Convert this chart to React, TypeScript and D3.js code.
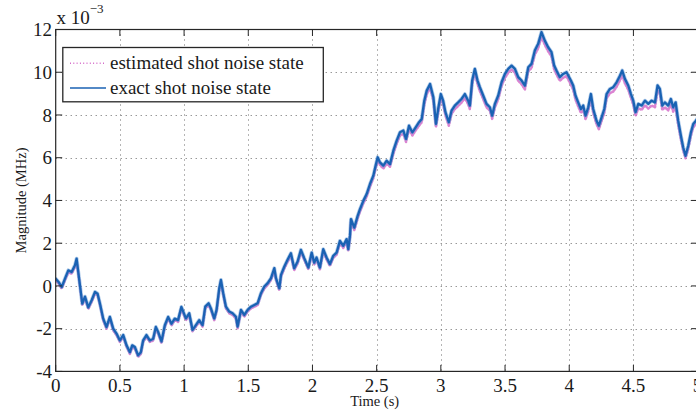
import React from 'react';
import * as d3 from 'd3';

// ---- data ----
const timeS = [
  // 0 - 1 s
  0, 0.021, 0.047, 0.073, 0.098, 0.124, 0.150, 0.163, 0.176, 0.189, 0.207, 0.228, 0.254, 0.280, 0.306, 0.326, 0.345, 0.370, 0.396, 0.422, 0.448, 0.474, 0.500, 0.526, 0.552, 0.578, 0.596, 0.617, 0.642, 0.663, 0.681, 0.707, 0.733, 0.759, 0.780, 0.798, 0.824, 0.850, 0.876, 0.902, 0.927, 0.953, 0.979,
  // 1 - 2 s
  1.014, 1.040, 1.066, 1.092, 1.118, 1.144, 1.165, 1.191, 1.209, 1.235, 1.253, 1.274, 1.287, 1.305, 1.326, 1.352, 1.378, 1.404, 1.417, 1.443, 1.469, 1.495, 1.521, 1.547, 1.573, 1.599, 1.625, 1.651, 1.677, 1.703, 1.716, 1.742, 1.755, 1.781, 1.806, 1.832, 1.858, 1.884, 1.910, 1.936,
  // 2 - 3 s
  1.968, 1.994, 2.014, 2.032, 2.058, 2.084, 2.110, 2.136, 2.162, 2.188, 2.214, 2.240, 2.266, 2.279, 2.292, 2.300, 2.326, 2.352, 2.370, 2.396, 2.422, 2.448, 2.474, 2.492, 2.508, 2.526, 2.552, 2.578, 2.604, 2.630, 2.656, 2.682, 2.708, 2.729, 2.752, 2.778, 2.804, 2.830, 2.851, 2.871, 2.890, 2.916, 2.942, 2.962,
  // 3 - 4 s
  2.979, 3.000, 3.018, 3.036, 3.062, 3.083, 3.109, 3.135, 3.161, 3.187, 3.213, 3.226, 3.244, 3.265, 3.286, 3.304, 3.330, 3.356, 3.382, 3.400, 3.421, 3.447, 3.473, 3.499, 3.525, 3.551, 3.577, 3.603, 3.629, 3.655, 3.681, 3.706, 3.732, 3.758, 3.784, 3.810, 3.836, 3.862, 3.883, 3.901, 3.927, 3.953, 3.979,
  // 4 - 5 s
  4.013, 4.031, 4.049, 4.070, 4.091, 4.109, 4.127, 4.148, 4.169, 4.187, 4.213, 4.231, 4.252, 4.273, 4.291, 4.317, 4.343, 4.369, 4.395, 4.413, 4.434, 4.460, 4.481, 4.499, 4.517, 4.538, 4.564, 4.590, 4.616, 4.642, 4.668, 4.688, 4.706, 4.725, 4.745, 4.771, 4.792, 4.810, 4.829, 4.849, 4.870, 4.888, 4.906, 4.927, 4.948, 4.966, 4.987, 5.000,
];

// exact shot noise state (x 10^-3 MHz)
const exactShot = [
  0.34, 0.20, -0.05, 0.35, 0.73, 0.65, 0.97, 1.28, 0.65, 0.03, -0.83, -0.50, -1.00, -0.67, -0.28, -0.36, -0.83, -1.53, -1.92, -1.45, -2.00, -2.23, -2.55, -2.30, -2.78, -3.10, -2.78, -2.86, -3.25, -3.10, -2.55, -2.30, -2.55, -2.47, -1.92, -2.15, -2.60, -1.84, -1.45, -1.77, -1.53, -1.60, -0.98,
  -1.52, -1.28, -2.06, -1.83, -1.60, -1.83, -0.97, -0.81, -1.05, -1.52, -1.12, -0.11, 0.28, -0.34, -0.97, -1.20, -1.28, -1.44, -1.90, -1.12, -1.36, -1.12, -0.97, -0.89, -0.81, -0.34, -0.03, 0.13, 0.36, 0.83, 0.36, -0.11, 0.52, 0.91, 1.22, 1.53, 0.83, 1.14, 1.69, 1.30,
  0.86, 1.56, 1.09, 1.33, 0.86, 1.72, 1.33, 1.02, 1.41, 1.56, 2.11, 1.88, 2.19, 1.72, 2.34, 3.13, 2.73, 3.28, 3.59, 3.98, 4.30, 4.77, 5.16, 5.63, 6.02, 5.78, 5.63, 5.86, 5.70, 6.33, 6.80, 7.19, 7.27, 6.88, 7.50, 7.19, 7.42, 7.66, 7.81, 8.67, 9.14, 9.45, 8.83, 7.58,
  8.28, 8.98, 8.67, 8.13, 7.66, 8.20, 8.44, 8.59, 8.75, 8.98, 8.67, 8.44, 9.61, 10.16, 9.61, 9.30, 8.91, 8.52, 8.36, 7.97, 8.52, 8.91, 9.53, 9.92, 10.16, 10.31, 10.16, 9.77, 9.61, 9.38, 10.23, 10.39, 11.02, 11.33, 11.88, 11.48, 11.17, 10.94, 10.31, 10.08, 9.77, 9.92, 10.00,
  9.61, 9.38, 8.91, 8.59, 8.28, 8.44, 7.97, 8.36, 8.98, 8.28, 7.73, 7.50, 7.89, 8.28, 8.98, 9.22, 9.30, 9.53, 9.84, 10.08, 9.69, 9.38, 8.98, 8.67, 8.13, 8.52, 8.44, 8.67, 8.52, 8.67, 8.59, 9.38, 9.22, 8.44, 8.59, 8.44, 8.75, 8.36, 8.59, 7.73, 7.03, 6.48, 6.09, 6.56, 7.19, 7.58, 7.73, 7.85,
];

// estimated shot noise state (x 10^-3 MHz)
const estimatedShot = [
  0.30, 0.12, -0.12, 0.28, 0.62, 0.58, 0.88, 1.15, 0.58, -0.02, -0.90, -0.58, -1.08, -0.74, -0.36, -0.42, -0.90, -1.60, -2.00, -1.52, -2.08, -2.30, -2.62, -2.38, -2.85, -3.18, -2.86, -2.94, -3.32, -3.18, -2.62, -2.38, -2.62, -2.55, -2.00, -2.22, -2.68, -1.92, -1.52, -1.85, -1.60, -1.68, -1.06,
  -1.60, -1.36, -2.12, -1.90, -1.68, -1.90, -1.05, -0.90, -1.12, -1.60, -1.20, -0.20, 0.18, -0.42, -1.05, -1.28, -1.36, -1.52, -1.98, -1.20, -1.44, -1.20, -1.05, -0.97, -0.90, -0.42, -0.12, 0.05, 0.28, 0.72, 0.28, -0.20, 0.44, 0.82, 1.12, 1.42, 0.74, 1.05, 1.58, 1.22,
  0.78, 1.46, 1.00, 1.24, 0.78, 1.62, 1.24, 0.94, 1.32, 1.46, 2.00, 1.78, 2.08, 1.64, 2.24, 2.98, 2.62, 3.16, 3.48, 3.86, 4.18, 4.64, 5.04, 5.50, 5.88, 5.66, 5.50, 5.72, 5.58, 6.18, 6.66, 7.04, 7.12, 6.74, 7.34, 7.04, 7.28, 7.50, 7.66, 8.48, 8.96, 9.28, 8.66, 7.44,
  8.10, 8.80, 8.50, 7.98, 7.50, 8.04, 8.28, 8.42, 8.58, 8.80, 8.50, 8.28, 9.44, 9.98, 9.44, 9.12, 8.74, 8.36, 8.20, 7.82, 8.36, 8.74, 9.36, 9.74, 9.98, 10.12, 9.98, 9.60, 9.44, 9.20, 10.04, 10.20, 10.82, 11.12, 11.66, 11.28, 10.98, 10.74, 10.12, 9.90, 9.60, 9.74, 9.82,
  9.42, 9.18, 8.72, 8.40, 8.10, 8.26, 7.80, 8.18, 8.78, 8.10, 7.56, 7.34, 7.72, 8.10, 8.78, 9.02, 9.10, 9.32, 9.62, 9.86, 9.48, 9.18, 8.80, 8.48, 7.96, 8.32, 8.24, 8.46, 8.30, 8.44, 8.36, 9.16, 9.00, 8.24, 8.36, 8.22, 8.52, 8.16, 8.36, 7.54, 6.86, 6.34, 5.98, 6.42, 7.04, 7.42, 7.58, 7.70,
];

const xTicks = [0, 0.5, 1, 1.5, 2, 2.5, 3, 3.5, 4, 4.5, 5];
const xTickLabels = ['0', '0.5', '1', '1.5', '2', '2.5', '3', '3.5', '4', '4.5', '5'];
const yTicks = [-4, -2, 0, 2, 4, 6, 8, 10, 12];
const yTickLabels = ['-4', '-2', '0', '2', '4', '6', '8', '10', '12'];
const legendLabels = ['estimated shot noise state', 'exact shot noise state'];
const xAxisTitle = 'Time (s)';
const yAxisTitle = 'Magnitude (MHz)';

export default function App() {
  const W = 696, H = 414;
  const L = 55.7, R = 697.6, T = 29.5, B = 371.4;
  const x = d3.scaleLinear().domain([0, 5]).range([L, R]);
  const y = d3.scaleLinear().domain([-4, 12]).range([B, T]);
  const font = "'Liberation Serif', 'Times New Roman', serif";
  const axisColor = '#262626';
  const blue = '#1a62b3';
  const pink = '#d56dc9';

  const n = Math.min(timeS.length, exactShot.length, estimatedShot.length);
  const idx = d3.range(n);
  const lineExact = d3.line<number>().x(i => x(timeS[i])).y(i => y(exactShot[i]));
  const lineEst = d3.line<number>().x(i => x(timeS[i])).y(i => y(estimatedShot[i]));

  const tickLen = 6.5;

  return (
    <svg width={W} height={H} style={{ position: 'absolute', left: 0, top: 0, background: '#fff' }} fontFamily={font}>
      <defs>
        <clipPath id="plotClip">
          <rect x={L} y={T} width={R - L} height={B - T} />
        </clipPath>
      </defs>
      <rect x={0} y={0} width={W} height={H} fill="#fff" />

      {/* grid */}
      <g stroke="#6a6a6a" strokeWidth={1} strokeDasharray="1,4">
        {xTicks.slice(1, -1).map(t => (
          <line key={'gx' + t} x1={Math.round(x(t)) + 0.5} x2={Math.round(x(t)) + 0.5} y1={T} y2={B} />
        ))}
        {yTicks.slice(1, -1).map(t => (
          <line key={'gy' + t} x1={L} x2={R} y1={Math.round(y(t)) + 0.5} y2={Math.round(y(t)) + 0.5} />
        ))}
      </g>

      {/* data */}
      <g clipPath="url(#plotClip)" fill="none" strokeLinejoin="round" strokeLinecap="round">
        <path d={lineEst(idx) || ''} stroke={pink} strokeWidth={2.6} strokeDasharray="1.2,1.8" opacity={0.85} />
        <path d={lineExact(idx) || ''} stroke="#5f98d6" strokeWidth={3.8} opacity={0.5} />
        <path d={lineExact(idx) || ''} stroke={blue} strokeWidth={2.3} />
      </g>

      {/* axes box */}
      <rect x={L} y={T} width={R - L} height={B - T} fill="none" stroke={axisColor} strokeWidth={1.2} />
      <g stroke={axisColor} strokeWidth={1}>
        {xTicks.map(t => (
          <g key={'tx' + t}>
            <line x1={x(t)} x2={x(t)} y1={B} y2={B - tickLen} />
            <line x1={x(t)} x2={x(t)} y1={T} y2={T + tickLen} />
          </g>
        ))}
        {yTicks.map(t => (
          <g key={'ty' + t}>
            <line x1={L} x2={L + tickLen} y1={y(t)} y2={y(t)} />
            <line x1={R} x2={R - tickLen} y1={y(t)} y2={y(t)} />
          </g>
        ))}
      </g>

      {/* tick labels */}
      <g fontSize={19} fill="#1a1a1a">
        {xTicks.map((t, i) => (
          <text key={'lx' + t} x={x(t)} y={392} textAnchor="middle">{xTickLabels[i]}</text>
        ))}
        {yTicks.map((t, i) => (
          <text key={'ly' + t} x={52} y={y(t)} dy="0.35em" textAnchor="end">{yTickLabels[i]}</text>
        ))}
      </g>

      {/* exponent */}
      <text x={56.5} y={24} fontSize={19} fill="#1a1a1a">
        x 10<tspan fontSize={13} dy={-11}>−3</tspan>
      </text>

      {/* axis titles */}
      <text x={(L + R) / 2 - 2} y={406} fontSize={14.5} textAnchor="middle" fill="#1a1a1a">{xAxisTitle}</text>
      <text transform={`translate(25.5, ${(T + B) / 2}) rotate(-90)`} fontSize={14.5} textAnchor="middle" fill="#1a1a1a">{yAxisTitle}</text>

      {/* legend */}
      <g>
        <rect x={62.8} y={47.5} width={260.5} height={54.3} fill="#fff" stroke={axisColor} strokeWidth={1.3} />
        <line x1={70} x2={105} y1={63.3} y2={63.3} stroke={pink} strokeWidth={1.6} strokeDasharray="1,2.3" />
        <line x1={70} x2={106} y1={88} y2={88} stroke={blue} strokeWidth={1.3} />
        <text x={110} y={68.5} fontSize={19} fill="#1a1a1a">{legendLabels[0]}</text>
        <text x={110} y={93.5} fontSize={19} fill="#1a1a1a">{legendLabels[1]}</text>
      </g>
    </svg>
  );
}
